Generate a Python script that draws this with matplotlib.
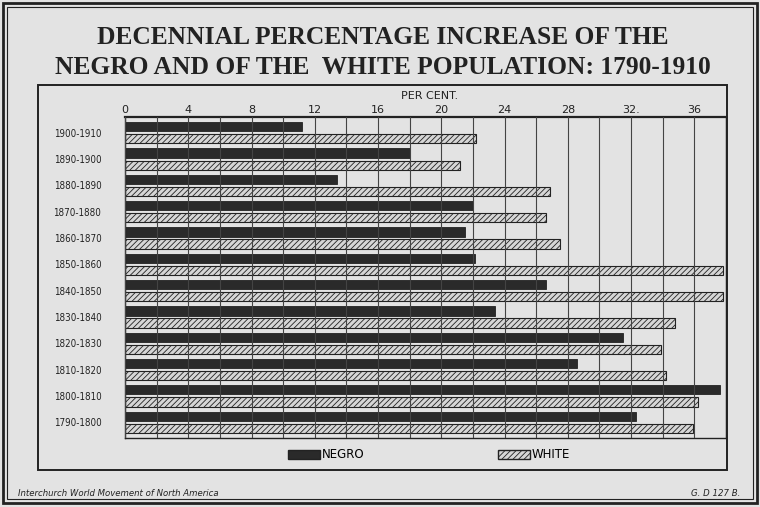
import matplotlib.pyplot as plt
from matplotlib.patches import Rectangle, Patch

# decades, top to bottom as in the original chart
decades = ["1900-1910", "1890-1900", "1880-1890", "1870-1880", "1860-1870",
           "1850-1860", "1840-1850", "1830-1840", "1820-1830", "1810-1820",
           "1800-1810", "1790-1800"]
negro = [11.2, 18.0, 13.4, 22.0, 21.5, 22.1, 26.6, 23.4, 31.5, 28.6, 37.6, 32.3]
white = [22.2, 21.2, 26.9, 26.6, 27.5, 37.8, 37.8, 34.8, 33.9, 34.2, 36.2, 35.9]
tick_values = [0, 4, 8, 12, 16, 20, 24, 28, 32, 36]
tick_labels = ["0", "4", "8", "12", "16", "20", "24", "28", "32.", "36"]

bg = "#e3e3e3"
ink = "#222222"

fig = plt.figure(figsize=(7.6, 5.07), dpi=100, facecolor=bg)

W, H = 760, 507


def box(x0, y0, x1, y1, lw):
    # rectangle given in pixel coordinates (top-left origin)
    fig.patches.append(Rectangle((x0 / W, 1 - y1 / H), (x1 - x0) / W, (y1 - y0) / H,
                                 transform=fig.transFigure, fill=False,
                                 edgecolor=ink, linewidth=lw))


box(3, 3, 757, 503, 2.0)
box(7, 7, 753, 499, 0.8)
box(38, 85, 727, 470, 1.4)

fig.text(383 / W, 1 - 38 / H, "DECENNIAL PERCENTAGE INCREASE OF THE", ha="center",
         va="center", fontsize=18.4, family="Liberation Serif", weight="bold", color=ink)
fig.text(383 / W, 1 - 68 / H, "NEGRO AND OF THE  WHITE POPULATION: 1790-1910", ha="center",
         va="center", fontsize=18.4, family="Liberation Serif", weight="bold", color=ink)

ax = fig.add_axes([125 / W, 1 - 438 / H, 601 / W, 321 / H], facecolor=bg)

pos = list(range(len(decades)))
off = 0.23
h = 0.35
ax.barh([p - off for p in pos], negro, height=h, color="#2a2a2a", edgecolor=ink,
        linewidth=0.6, zorder=2, label="NEGRO")
plt.rcParams["hatch.linewidth"] = 0.6
plt.rcParams["hatch.color"] = "#333333"
ax.barh([p + off for p in pos], white, height=h, color="#d6d6d6", edgecolor=ink,
        hatch="//////", linewidth=0.8, zorder=2, label="WHITE")

ax.set_xlim(0, 38)
ax.set_ylim(len(decades) - 0.4, -0.6)
ax.xaxis.tick_top()
ax.set_xticks(tick_values)
ax.set_xticklabels(tick_labels, fontsize=8, color=ink)
ax.set_xticks(range(2, 39, 4), minor=True)
ax.grid(axis="x", which="both", color="#444444", linewidth=0.8, zorder=3)
ax.set_axisbelow(False)
ax.tick_params(axis="x", which="both", length=0, pad=1.5)
ax.set_yticks(pos)
ax.set_yticklabels(decades, fontsize=7, stretch="condensed", color=ink)
ax.tick_params(axis="y", length=0, pad=17)
for s in ax.spines.values():
    s.set_color(ink)
    s.set_linewidth(1.0)
ax.spines["top"].set_linewidth(1.6)

fig.text(430 / W, 1 - 96 / H, "PER CENT.", ha="center", va="center", fontsize=8,
         color=ink)

fig.legend(handles=[Patch(facecolor="#2a2a2a", edgecolor=ink, label="NEGRO"),
                    Patch(facecolor="#d6d6d6", edgecolor=ink, hatch="//////", label="WHITE")],
           loc="center", bbox_to_anchor=(429 / W, 1 - 455 / H), ncol=2, frameon=False,
           fontsize=8.5, handlelength=2.7, handleheight=0.9, handletextpad=0.15,
           columnspacing=11.3)

fig.text(18 / W, 1 - 493 / H, "Interchurch World Movement of North America", ha="left",
         va="center", fontsize=6.8, style="italic", stretch="condensed", color=ink)
fig.text(740 / W, 1 - 493 / H, "G. D 127 B.", ha="right", va="center", fontsize=6.8,
         style="italic", stretch="condensed", color=ink)

fig.savefig("out.png", dpi=100, facecolor=bg)
